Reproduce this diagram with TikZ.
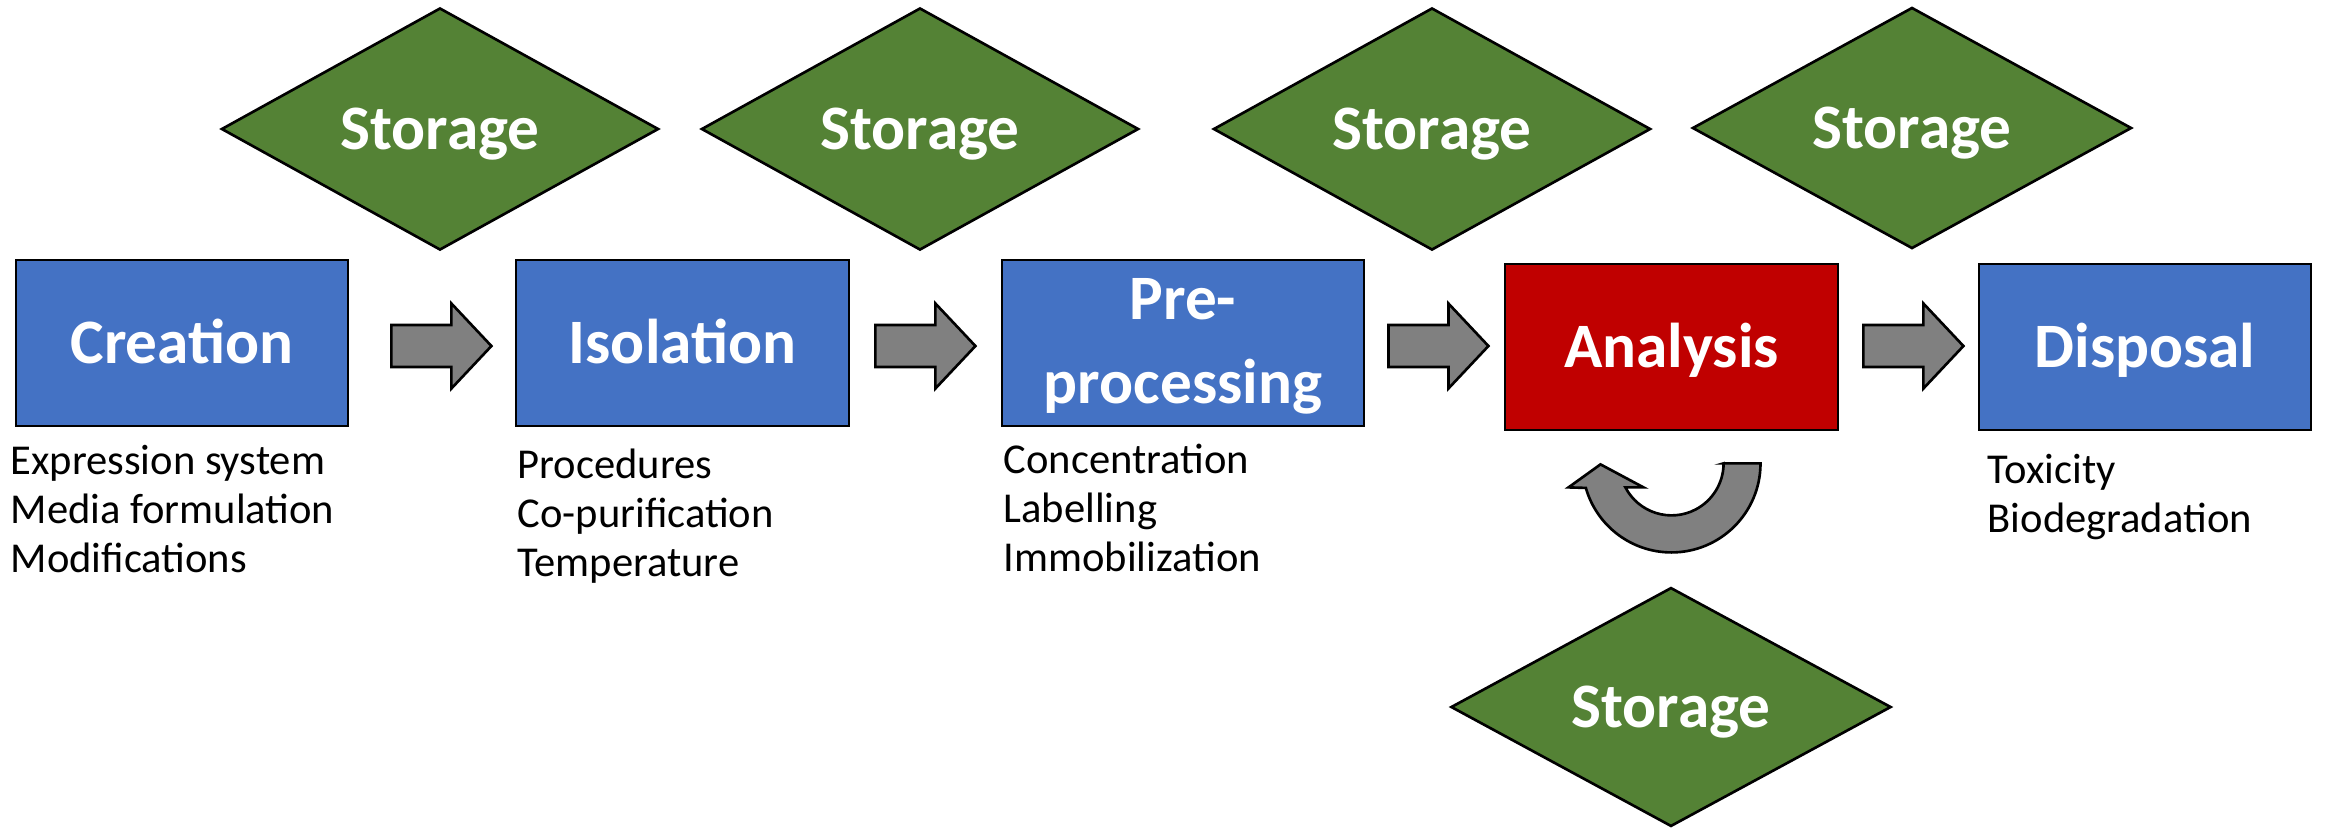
\documentclass[tikz,border=0pt]{standalone}
\usepackage{fontspec}
\setmainfont{Carlito}
\usetikzlibrary{shapes.geometric,calc}
\definecolor{boxblue}{HTML}{4472C4}
\definecolor{boxred}{HTML}{C00000}
\definecolor{storegreen}{HTML}{548235}
\definecolor{arrowgrey}{HTML}{808080}
\begin{document}
\begin{tikzpicture}[x=0.01cm,y=0.01cm,
  bigfont/.style={font=\fontsize{18}{21.3}\selectfont\bfseries},
  stagebox/.style={rectangle, draw=black, line width=0.75pt, inner sep=0pt,
    minimum width=3.32cm, minimum height=1.66cm, text=white, bigfont},
  stage/.style={stagebox, text height=11.4pt, text depth=0pt},
  store/.style={diamond, draw=black, line width=0.75pt, fill=storegreen, inner sep=0pt,
    minimum width=4.37cm, minimum height=2.42cm, text=white, bigfont,
    text height=11.4pt, text depth=0pt},
  note/.style={anchor=base west, inner sep=0pt, font=\fontsize{12.1}{14}\selectfont},
  blockarrow/.style={draw=black, line width=0.75pt, fill=arrowgrey, line join=miter},
  barrow/.pic={\draw[blockarrow] (0,21) -- (60,21) -- (60,42.5) -- (100,0)
    -- (60,-42.5) -- (60,-21) -- (0,-21) -- cycle;}
]
\useasboundingbox (0,0) rectangle (2326,-829);

% stage boxes
\node[stage, fill=boxblue] (creation) at (182,-343) {Creation};
\node[stage, fill=boxblue, minimum width=3.33cm] (isolation) at (682.5,-343) {Isolation};
\node[stagebox, fill=boxblue, minimum width=3.62cm] (pre) at (1183,-343) {};
\node[text=white, bigfont, align=center, inner sep=0pt] (prelabel) at ($(pre.center)+(0,-3)$) {Pre-\\[2.5pt]processing};
\node[stage, fill=boxred, minimum width=3.33cm] (analysis) at (1671.5,-347) {Analysis};
\node[stage, fill=boxblue] (disposal) at (2145,-347) {Disposal};

% storage diamonds
\node[store] (store1) at (440,-129) {Storage};
\node[store] (store2) at (920,-129) {Storage};
\node[store] (store3) at (1432,-129) {Storage};
\node[store, minimum width=4.39cm, minimum height=2.41cm] (store4) at (1912,-128) {Storage};
\node[store, minimum width=4.40cm, minimum height=2.38cm] (store5) at (1671,-707) {Storage};

% block arrows between stages
\pic at ($(creation.east)+(42,-3)$) {barrow};
\pic at ($(isolation.east)+(25,-3)$) {barrow};
\pic at ($(pre.east)+(23,-3)$) {barrow};
\pic at ($(analysis.east)+(24,1)$) {barrow};

% U-turn arrow below analysis
\coordinate (loopc) at ($(analysis.south)+(0,-32)$);
\draw[blockarrow] ($(loopc)+(52,0)$) -- ($(loopc)+(89,0)$)
  arc[start angle=0, end angle=-164, radius=0.89cm]
  -- ($(loopc)+(-103,-24)$) -- ($(loopc)+(-71,-1)$) -- ($(loopc)+(-28,-24)$)
  -- ($(loopc)+(-46.1,-24)$)
  arc[start angle=-152.5, end angle=0, radius=0.52cm] -- cycle;

% notes
\node[note] (n1) at (10,-474) {\begin{tabular}[t]{@{}l@{}}Expression system\\Media formulation\\Modifications\end{tabular}};
\node[note] (n2) at (517,-478) {\begin{tabular}[t]{@{}l@{}}Procedures\\Co-purification\\Temperature\end{tabular}};
\node[note] (n3) at (1003,-473) {\begin{tabular}[t]{@{}l@{}}Concentration\\Labelling\\Immobilization\end{tabular}};
\node[note] (n4) at (1987,-483) {\begin{tabular}[t]{@{}l@{}}Toxicity\\Biodegradation\end{tabular}};
\end{tikzpicture}
\end{document}
